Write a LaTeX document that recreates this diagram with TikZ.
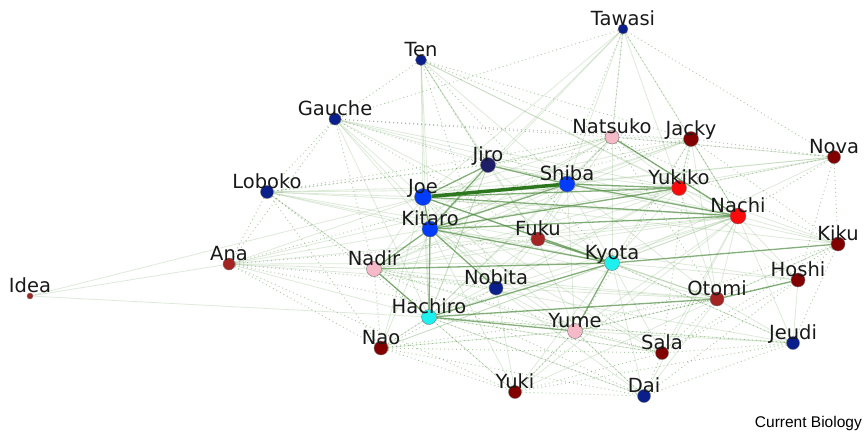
\documentclass[tikz,border=0pt]{standalone}
\usepackage{fontspec}
\setmainfont{DejaVu Sans}
\newfontfamily\creditfont{Liberation Sans}
\usetikzlibrary{backgrounds}

\definecolor{navy}{RGB}{10,30,140}
\definecolor{indigo}{RGB}{30,30,105}
\definecolor{brightblue}{RGB}{0,60,250}
\definecolor{aqua}{RGB}{30,240,240}
\definecolor{blush}{RGB}{245,185,200}
\definecolor{scarlet}{RGB}{250,10,10}
\definecolor{maroon}{RGB}{130,0,0}
\definecolor{brick}{RGB}{165,35,35}
\definecolor{leaf}{RGB}{45,120,30}
\definecolor{moss}{RGB}{80,140,65}
\definecolor{sage}{RGB}{120,170,105}

\tikzset{
  person/.style={circle, inner sep=0pt, draw=black!55, line width=0.4pt},
  tag/.style={anchor=base, inner sep=0pt, text=black!90, font=\fontsize{19.5}{22}\selectfont},
  strong/.style={leaf, line width=3.5pt},
  tie/.style={moss, line width=1.3pt, opacity=0.7},
  weak/.style={sage, line width=0.8pt, opacity=0.25},
  faint/.style={moss, line width=0.9pt, opacity=0.45, dash pattern=on 1pt off 3pt}
}

\begin{document}
\begin{tikzpicture}[x=1pt, y=-1pt]
  \useasboundingbox (0,0) rectangle (864,432);

  % people
  \foreach \n/\x/\y/\r/\c in {
      Tawasi/623/29/5/navy, Ten/421/60/5.5/navy, Gauche/335/119/6/navy,
      Loboko/267/192/6.5/navy, Jiro/488/165/7.5/indigo, Joe/423/197/8.5/brightblue,
      Shiba/567/184/8/brightblue, Natsuko/612/137/7/blush, Jacky/691/139/7.5/maroon,
      Yukiko/679/188/7.5/scarlet, Nachi/738/216/8/scarlet, Nova/834/157/6.5/maroon,
      Kiku/838/244/7/maroon, Kitaro/430/229/8/brightblue, Fuku/538/239/7/brick,
      Kyota/612/263/7.5/aqua, Nadir/374/269/7.5/blush, Ana/229/264/6/brick,
      Idea/30/296/3/brick, Nobita/496/288/7/navy, Hachiro/429/317/7.5/aqua,
      Yume/575/331/7.5/blush, Otomi/717/299/7/brick, Hoshi/798/280/7/maroon,
      Jeudi/793/343/6.5/navy, Sala/662/353/6.5/maroon, Nao/381/348/7/maroon,
      Yuki/515/392/6.5/maroon, Dai/644/396/6.5/navy}
  {
    \node[person, minimum size=2*\r*1pt, fill=\c] (\n) at (\x,\y) {};
    \node[tag] (\n-l) at ([yshift=4pt]\n.center) {\n};
  }

  \begin{pgfonlayer}{background}
    % weak ties
    \foreach \a/\bs in {
        Tawasi/{Joe,Jiro,Shiba,Yukiko,Nachi,Natsuko,Kitaro},
        Ten/{Joe,Kitaro,Jiro,Shiba,Yukiko,Nachi,Fuku,Hachiro},
        Gauche/{Joe,Kitaro,Shiba,Yukiko,Nachi,Kyota,Nobita,Hachiro},
        Loboko/{Joe,Kitaro,Shiba,Yukiko,Nachi,Kyota,Fuku,Nadir},
        Ana/{Joe,Kitaro,Shiba,Nadir,Kyota,Nachi,Hachiro,Otomi},
        Idea/{Ana,Joe,Hachiro},
        Natsuko/{Joe,Kitaro,Jiro,Shiba,Yukiko,Kyota,Fuku,Nadir,Hachiro},
        Jacky/{Joe,Shiba,Yukiko,Nachi,Kitaro,Kyota,Nadir,Otomi},
        Nova/{Shiba,Yukiko,Natsuko,Joe,Kitaro,Kyota},
        Kiku/{Nachi,Yukiko,Shiba,Joe,Otomi},
        Hoshi/{Nachi,Kyota,Yukiko,Jeudi,Kitaro},
        Jeudi/{Otomi,Kyota,Yume,Nachi,Hachiro,Nadir},
        Sala/{Kyota,Yume,Hachiro,Nachi,Kitaro,Joe},
        Dai/{Yume,Kyota,Hachiro,Nobita,Nachi,Otomi},
        Yuki/{Hachiro,Yume,Kyota,Nobita,Kitaro,Otomi,Nachi},
        Nao/{Hachiro,Kyota,Kitaro,Joe,Yume,Nachi},
        Nadir/{Joe,Shiba,Nachi,Yukiko,Otomi,Yume,Fuku},
        Nobita/{Joe,Shiba,Yukiko,Nachi,Otomi,Yume,Hachiro},
        Otomi/{Joe,Kitaro,Shiba,Yukiko,Nachi,Fuku,Yume,Kyota},
        Yume/{Joe,Kitaro,Nachi,Shiba,Fuku},
        Fuku/{Shiba,Yukiko,Nachi,Hachiro,Nobita,Jiro},
        Kyota/{Shiba,Yukiko,Nachi,Jiro},
        Hachiro/{Joe,Shiba,Nachi,Yukiko,Jiro},
        Jiro/{Yukiko,Nachi,Nadir,Hachiro}}
      \foreach \b in \bs
        \draw[weak] (\a) -- (\b);

    % dotted ties
    \foreach \a/\bs in {
        Tawasi/{Gauche,Natsuko,Nova,Jacky,Fuku},
        Ten/{Natsuko,Jacky,Gauche,Kyota,Nobita},
        Gauche/{Loboko,Ana,Nadir,Fuku,Natsuko,Jacky},
        Loboko/{Ana,Nadir,Nao,Jacky,Natsuko,Hachiro},
        Ana/{Nao,Yuki,Nobita,Yume,Fuku,Jacky},
        Nao/{Yuki,Dai,Sala,Nobita,Yume,Otomi},
        Yuki/{Dai,Sala,Jeudi,Yume},
        Dai/{Sala,Jeudi,Hoshi},
        Jeudi/{Kiku,Sala,Kyota},
        Kiku/{Nova,Hoshi,Jacky,Otomi,Natsuko},
        Nova/{Jacky,Nachi,Natsuko,Hoshi,Yukiko},
        Jacky/{Natsuko,Yukiko,Nachi,Sala,Yume},
        Natsuko/{Jiro,Shiba,Nachi,Otomi},
        Nadir/{Nao,Yuki,Nobita,Dai,Sala},
        Hachiro/{Sala,Dai,Jeudi,Nao},
        Yume/{Sala,Dai,Otomi,Hoshi,Kiku},
        Sala/{Otomi,Hoshi,Kiku},
        Jiro/{Gauche,Loboko,Ten}}
      \foreach \b in \bs
        \draw[faint] (\a) -- (\b);

    % close ties
    \foreach \a/\b in {Joe/Jiro, Jiro/Shiba, Joe/Kitaro, Joe/Yukiko, Joe/Nachi,
        Joe/Kyota, Shiba/Yukiko, Shiba/Nachi, Shiba/Kitaro, Kitaro/Yukiko,
        Kitaro/Nachi, Kitaro/Kyota, Kitaro/Nobita, Kitaro/Hachiro, Kitaro/Nadir,
        Jiro/Kitaro, Fuku/Kyota, Nadir/Kyota, Nadir/Hachiro, Hachiro/Kyota,
        Hachiro/Yume, Hachiro/Otomi, Kyota/Yume, Kyota/Kiku, Otomi/Hoshi,
        Natsuko/Nachi}
      \draw[tie] (\a) -- (\b);

    \draw[strong] (Joe) -- (Shiba);
  \end{pgfonlayer}

  \node[anchor=base east, inner sep=0pt, font=\creditfont\fontsize{15.5}{18}\selectfont]
    (credit) at (862,427) {Current Biology};
\end{tikzpicture}
\end{document}
